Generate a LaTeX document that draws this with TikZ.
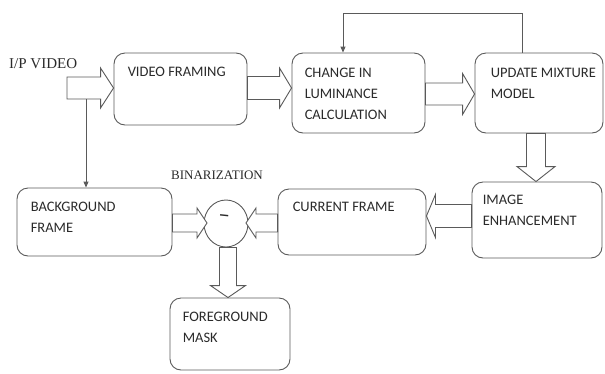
\documentclass[tikz,border=0pt]{standalone}
\usepackage{fontspec}
\setmainfont{Carlito}
\newfontfamily\serifnt{Liberation Serif}
\usetikzlibrary{calc,shapes.geometric,arrows.meta}
\definecolor{ln}{HTML}{5A5A5A}
\definecolor{tx}{HTML}{2A2A2A}
\tikzset{
  box/.style={draw=ln,line width=0.9pt,rounded corners=11pt,inner sep=0pt},
  txt/.style={anchor=north west,inner sep=0pt,align=left,text=tx,font=\fontsize{14.5}{21}\selectfont},
  lbl/.style={inner sep=0pt,text=tx},
  blk/.style={draw=ln,line width=0.9pt,fill=white,line join=miter},
  thin/.style={draw=ln,line width=0.9pt,-{Triangle[length=6pt,width=5pt]}}
}
% horizontal block arrow: tail, tip, shaft half width, head half width, head length
\newcommand\harr[5]{\draw[blk] let \p1=#1, \p2=#2, \n1={sign(\x2-\x1)} in
  (\x1,{\y1-#3}) -- ({\x2-\n1*#5},{\y1-#3}) -- ({\x2-\n1*#5},{\y1-#4}) -- (\x2,\y1)
  -- ({\x2-\n1*#5},{\y1+#4}) -- ({\x2-\n1*#5},{\y1+#3}) -- (\x1,{\y1+#3}) -- cycle;}
% vertical block arrow
\newcommand\varr[5]{\draw[blk] let \p1=#1, \p2=#2, \n1={sign(\y2-\y1)} in
  ({\x1-#3},\y1) -- ({\x1-#3},{\y2-\n1*#5}) -- ({\x1-#4},{\y2-\n1*#5}) -- (\x1,\y2)
  -- ({\x1+#4},{\y2-\n1*#5}) -- ({\x1+#3},{\y2-\n1*#5}) -- ({\x1+#3},\y1) -- cycle;}
\begin{document}
\begin{tikzpicture}[x=1pt,y=-1pt]
\useasboundingbox (0,0) rectangle (605,373);
% boxes
\node[box,minimum width=133pt,minimum height=72pt] (vf) at (180.5,89) {};
\node[box,minimum width=133pt,minimum height=80pt] (cl) at (358.5,93) {};
\node[box,minimum width=128pt,minimum height=80pt] (um) at (539,93) {};
\node[box,minimum width=130pt,minimum height=76pt] (ie) at (537,220) {};
\node[box,minimum width=148pt,minimum height=66pt] (cf) at (352,222) {};
\node[box,minimum width=155pt,minimum height=68pt] (bf) at (94.5,222) {};
\node[box,minimum width=120pt,minimum height=72pt] (fm) at (230,334) {};
\node[draw=ln,line width=0.9pt,ellipse,minimum width=44pt,minimum height=47pt,inner sep=0pt] (bin) at (226,223.5) {};
% texts
\node[txt] (t1) at ([xshift=14pt,yshift=-14pt]vf.north west) {VIDEO FRAMING};
\node[txt] (t2) at ([xshift=13pt,yshift=-15pt]cl.north west) {CHANGE IN\\LUMINANCE\\CALCULATION};
\node[txt] (t3) at ([xshift=16pt,yshift=-15pt]um.north west) {UPDATE MIXTURE\\MODEL};
\node[txt] (t4) at ([xshift=11pt,yshift=-13pt]ie.north west) {IMAGE\\ENHANCEMENT};
\node[txt] (t5) at ([xshift=15pt,yshift=-13pt]cf.north west) {CURRENT FRAME};
\node[txt] (t6) at ([xshift=14pt,yshift=-14pt]bf.north west) {BACKGROUND\\FRAME};
\node[txt] (t7) at ([xshift=13pt,yshift=-14pt]fm.north west) {FOREGROUND\\MASK};
\node[lbl,font=\serifnt\fontsize{15}{18}\selectfont,anchor=west] (ip) at (9,64) {I/P VIDEO};
\node[lbl,font=\serifnt\fontsize{13}{16}\selectfont] (bz) at (217,175) {BINARIZATION};
\node[lbl,font=\fontsize{23}{24}\selectfont,rotate=-6] (minus) at ([xshift=-2pt,yshift=5pt]bin.center) {--};
% block arrows
\coordinate (in) at (67,88);
\harr{(in)}{(vf.west |- in)}{11pt}{20pt}{13pt}
\coordinate (a2) at (0,88);
\harr{(vf.east |- a2)}{(cl.west |- a2)}{11.5pt}{20pt}{12pt}
\coordinate (a3) at (0,94);
\harr{(cl.east |- a3)}{(um.west |- a3)}{11pt}{20.5pt}{12pt}
\coordinate (a4) at (536,0);
\varr{(um.south -| a4)}{(ie.north -| a4)}{9.5pt}{19pt}{15pt}
\coordinate (a5) at (0,216);
\harr{(ie.west |- a5)}{(cf.east |- a5)}{11.5pt}{21.5pt}{9pt}
\coordinate (a6) at (0,223);
\coordinate (lt) at (207,223);
\coordinate (rt) at (246,223);
\harr{(bf.east |- a6)}{(lt)}{9pt}{15pt}{10pt}
\harr{(cf.west |- a6)}{(rt)}{9pt}{15pt}{10pt}
\coordinate (a8) at (228,0);
\varr{(bin.south -| a8)}{(fm.north -| a8)}{8.5pt}{17.5pt}{12pt}
% thin connectors
\coordinate (tap) at (86,99);
\draw[thin] (tap) -- (tap |- bf.north);
\coordinate (fb1) at (522,13);
\coordinate (fb2) at (343,13);
\draw[thin] (um.north -| fb1) -- (fb1) -- (fb2) -- (fb2 |- cl.north);
\end{tikzpicture}
\end{document}
